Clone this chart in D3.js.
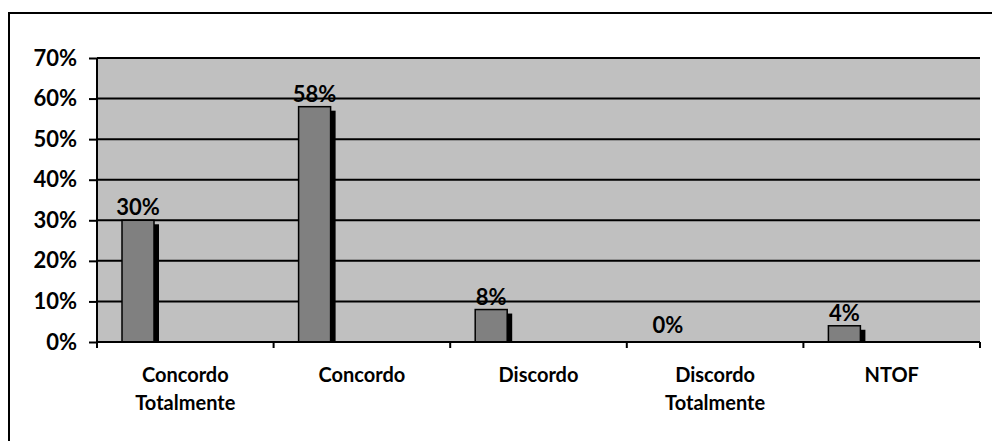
<!DOCTYPE html>
<html>
<head>
<meta charset="utf-8">
<script src="https://cdn.jsdelivr.net/npm/d3@7"></script>
<style>
  body { margin: 0; background: #fff; }
  text { font-family: Lato, "Open Sans", sans-serif; font-weight: bold; fill: #000; }
</style>
</head>
<body>
<svg id="chart" width="992" height="441"></svg>
<script>
var categories = [["Concordo", "Totalmente"], ["Concordo"], ["Discordo"], ["Discordo", "Totalmente"], ["NTOF"]];
var values = [0.30, 0.58, 0.08, 0.00, 0.04];
var yTicks = [0, 0.1, 0.2, 0.3, 0.4, 0.5, 0.6, 0.7];

var svg = d3.select("#chart");
var margin = {top: 58, right: 12, bottom: 99, left: 97};
var width = 992 - margin.left - margin.right;
var height = 441 - margin.top - margin.bottom;

// outer chart border
svg.append("rect")
    .attr("x", 9).attr("y", 13)
    .attr("width", 1000).attr("height", 500)
    .attr("fill", "none")
    .attr("stroke", "#000")
    .attr("stroke-width", 2);

var g = svg.append("g")
    .attr("transform", "translate(" + margin.left + "," + margin.top + ")");

var x = d3.scaleBand()
    .domain(d3.range(categories.length))
    .range([0, width]);

var y = d3.scaleLinear()
    .domain([0, 0.7])
    .range([height, 0]);

g.append("rect")
    .attr("width", width)
    .attr("height", height)
    .attr("fill", "#c0c0c0");

// gridlines
g.selectAll(".grid")
    .data(yTicks.slice(1))
    .enter().append("line")
    .attr("x1", 0).attr("x2", width)
    .attr("y1", function (d) { return y(d); })
    .attr("y2", function (d) { return y(d); })
    .attr("stroke", "#000")
    .attr("stroke-width", 2);

var barX = function (i) { return x(i) + 25; };
var barW = 32;

// shadows
g.selectAll(".shadow")
    .data(values)
    .enter().append("rect")
    .filter(function (d) { return d > 0; })
    .attr("x", function (d) { return barX(values.indexOf(d)) + barW - 1; })
    .attr("y", function (d) { return Math.min(y(d) + 4, height); })
    .attr("width", 6)
    .attr("height", function (d) { return Math.max(height - y(d) - 4, 0); })
    .attr("fill", "#000");

// bars
g.selectAll(".bar")
    .data(values)
    .enter().append("rect")
    .filter(function (d) { return d > 0; })
    .attr("x", function (d) { return barX(values.indexOf(d)); })
    .attr("y", function (d) { return y(d); })
    .attr("width", barW)
    .attr("height", function (d) { return height - y(d); })
    .attr("fill", "#808080")
    .attr("stroke", "#000")
    .attr("stroke-width", 1.5);

// value labels
g.selectAll(".label")
    .data(values)
    .enter().append("text")
    .attr("x", function (d, i) { return barX(i) + barW / 2; })
    .attr("y", function (d) { return y(d) - (d === 0 ? 9 : 5); })
    .attr("text-anchor", "middle")
    .style("font-size", "22px")
    .text(function (d) { return Math.round(d * 100) + "%"; });

// y axis
var yAxis = g.append("g")
    .call(d3.axisLeft(y).tickValues(yTicks).tickSize(8).tickPadding(12).tickFormat(d3.format(".0%")));
yAxis.select(".domain").attr("stroke-width", 2).attr("d", "M0,0V" + height);
yAxis.selectAll(".tick line").attr("stroke-width", 2);
yAxis.selectAll("text")
    .style("font-size", "22px")
    .style("font-family", "Lato, 'Open Sans', sans-serif")
    .style("font-weight", "bold")
    .attr("fill", "#000");

// x axis
var xAxis = g.append("g")
    .attr("transform", "translate(0," + height + ")");
xAxis.append("line")
    .attr("x1", 0).attr("x2", width)
    .attr("stroke", "#000").attr("stroke-width", 2);
xAxis.selectAll(".xtick")
    .data(d3.range(categories.length + 1))
    .enter().append("line")
    .attr("x1", function (i) { return i < categories.length ? x(i) : width; })
    .attr("x2", function (i) { return i < categories.length ? x(i) : width; })
    .attr("y1", 0).attr("y2", 6)
    .attr("stroke", "#000").attr("stroke-width", 2);

var catText = xAxis.selectAll(".cat")
    .data(categories)
    .enter().append("text")
    .attr("text-anchor", "middle")
    .style("font-size", "20px")
    .attr("transform", function (d, i) { return "translate(" + (x(i) + x.bandwidth() / 2) + ",40)"; });
catText.selectAll("tspan")
    .data(function (d) { return d; })
    .enter().append("tspan")
    .attr("x", 0)
    .attr("y", function (d, j) { return j * 28; })
    .text(function (d) { return d; });
</script>
</body>
</html>
